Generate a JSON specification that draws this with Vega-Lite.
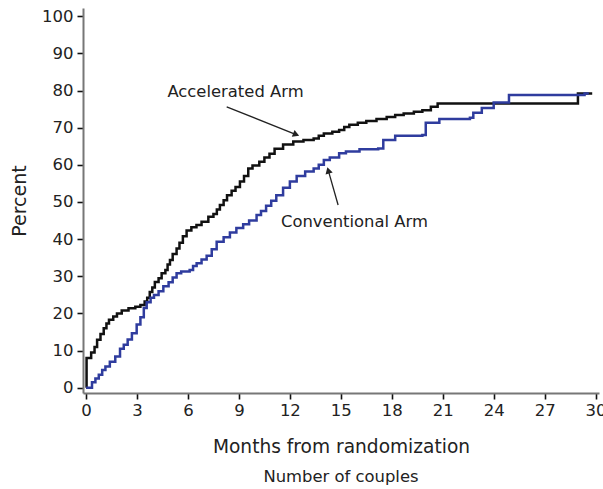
{
  "$schema": "https://vega.github.io/schema/vega-lite/v6.json",
  "width": 516,
  "height": 385,
  "autosize": {"type": "none"},
  "padding": {"left": 83, "top": 8, "right": 4, "bottom": 96},
  "background": "white",
  "config": {
    "view": {"stroke": null},
    "font": "DejaVu Sans",
    "axis": {"grid": false, "labelOverlap": false, "labelFont": "DejaVu Sans", "titleFont": "DejaVu Sans"},
    "axisY": {"tickCount": 11}
  },
  "title": {
    "text": "Number of couples",
    "orient": "bottom",
    "fontSize": 16.4,
    "fontWeight": "normal",
    "color": "#222",
    "offset": 13,
    "font": "DejaVu Sans"
  },
  "datasets": {
    "curves": [
      {"arm": "Accelerated", "month": 0, "pct": 0},
      {"arm": "Accelerated", "month": 0.03, "pct": 8},
      {"arm": "Accelerated", "month": 0.3, "pct": 9.5},
      {"arm": "Accelerated", "month": 0.5, "pct": 11},
      {"arm": "Accelerated", "month": 0.65, "pct": 12.9},
      {"arm": "Accelerated", "month": 0.85, "pct": 14.5},
      {"arm": "Accelerated", "month": 1.04, "pct": 16},
      {"arm": "Accelerated", "month": 1.2, "pct": 17.3},
      {"arm": "Accelerated", "month": 1.35, "pct": 18.3},
      {"arm": "Accelerated", "month": 1.6, "pct": 19.2},
      {"arm": "Accelerated", "month": 1.82, "pct": 20},
      {"arm": "Accelerated", "month": 2.1, "pct": 20.8},
      {"arm": "Accelerated", "month": 2.5, "pct": 21.4},
      {"arm": "Accelerated", "month": 2.9, "pct": 21.8},
      {"arm": "Accelerated", "month": 3.2, "pct": 22.3},
      {"arm": "Accelerated", "month": 3.45, "pct": 23.2},
      {"arm": "Accelerated", "month": 3.6, "pct": 24.2},
      {"arm": "Accelerated", "month": 3.75, "pct": 25.8},
      {"arm": "Accelerated", "month": 3.9, "pct": 27},
      {"arm": "Accelerated", "month": 4.05, "pct": 28.5},
      {"arm": "Accelerated", "month": 4.27, "pct": 29.5},
      {"arm": "Accelerated", "month": 4.45, "pct": 30.8},
      {"arm": "Accelerated", "month": 4.67, "pct": 31.7},
      {"arm": "Accelerated", "month": 4.8, "pct": 33.2},
      {"arm": "Accelerated", "month": 4.94, "pct": 34.4},
      {"arm": "Accelerated", "month": 5.1, "pct": 36},
      {"arm": "Accelerated", "month": 5.33, "pct": 37.5},
      {"arm": "Accelerated", "month": 5.5, "pct": 39},
      {"arm": "Accelerated", "month": 5.7, "pct": 40.8},
      {"arm": "Accelerated", "month": 5.92, "pct": 42.3},
      {"arm": "Accelerated", "month": 6.2, "pct": 43.2},
      {"arm": "Accelerated", "month": 6.5, "pct": 43.8},
      {"arm": "Accelerated", "month": 6.8, "pct": 44.7},
      {"arm": "Accelerated", "month": 7.2, "pct": 46},
      {"arm": "Accelerated", "month": 7.5, "pct": 46.8},
      {"arm": "Accelerated", "month": 7.7, "pct": 48},
      {"arm": "Accelerated", "month": 7.88, "pct": 49.2},
      {"arm": "Accelerated", "month": 8.1, "pct": 50.5},
      {"arm": "Accelerated", "month": 8.3, "pct": 51.8},
      {"arm": "Accelerated", "month": 8.57, "pct": 53},
      {"arm": "Accelerated", "month": 8.8, "pct": 54},
      {"arm": "Accelerated", "month": 9.06, "pct": 55.5},
      {"arm": "Accelerated", "month": 9.3, "pct": 57},
      {"arm": "Accelerated", "month": 9.55, "pct": 59},
      {"arm": "Accelerated", "month": 9.8, "pct": 59.8},
      {"arm": "Accelerated", "month": 10.2, "pct": 60.8},
      {"arm": "Accelerated", "month": 10.5, "pct": 62},
      {"arm": "Accelerated", "month": 10.8, "pct": 63},
      {"arm": "Accelerated", "month": 11.1, "pct": 64.3},
      {"arm": "Accelerated", "month": 11.6, "pct": 65.5},
      {"arm": "Accelerated", "month": 12.2, "pct": 66.3},
      {"arm": "Accelerated", "month": 12.8, "pct": 66.7},
      {"arm": "Accelerated", "month": 13.4, "pct": 67.1},
      {"arm": "Accelerated", "month": 13.7, "pct": 67.8},
      {"arm": "Accelerated", "month": 14, "pct": 68.4},
      {"arm": "Accelerated", "month": 14.5, "pct": 68.9},
      {"arm": "Accelerated", "month": 14.9, "pct": 69.4},
      {"arm": "Accelerated", "month": 15.2, "pct": 70.2},
      {"arm": "Accelerated", "month": 15.5, "pct": 70.8},
      {"arm": "Accelerated", "month": 16, "pct": 71.3},
      {"arm": "Accelerated", "month": 16.5, "pct": 71.8},
      {"arm": "Accelerated", "month": 17.1, "pct": 72.3},
      {"arm": "Accelerated", "month": 17.7, "pct": 72.9},
      {"arm": "Accelerated", "month": 18.2, "pct": 73.4},
      {"arm": "Accelerated", "month": 18.7, "pct": 73.8},
      {"arm": "Accelerated", "month": 19.3, "pct": 74.3},
      {"arm": "Accelerated", "month": 19.8, "pct": 74.7},
      {"arm": "Accelerated", "month": 20.3, "pct": 75.6},
      {"arm": "Accelerated", "month": 20.7, "pct": 76.5},
      {"arm": "Accelerated", "month": 28.96, "pct": 79.2},
      {"arm": "Accelerated", "month": 29.8, "pct": 79.2},
      {"arm": "Conventional", "month": 0, "pct": 0},
      {"arm": "Conventional", "month": 0.35, "pct": 1.5},
      {"arm": "Conventional", "month": 0.55, "pct": 2.5},
      {"arm": "Conventional", "month": 0.75, "pct": 3.5},
      {"arm": "Conventional", "month": 0.95, "pct": 4.8},
      {"arm": "Conventional", "month": 1.14, "pct": 5.7},
      {"arm": "Conventional", "month": 1.4, "pct": 7},
      {"arm": "Conventional", "month": 1.72, "pct": 8.4},
      {"arm": "Conventional", "month": 2.0, "pct": 10.5},
      {"arm": "Conventional", "month": 2.22, "pct": 11.6},
      {"arm": "Conventional", "month": 2.45, "pct": 13},
      {"arm": "Conventional", "month": 2.7, "pct": 14.7},
      {"arm": "Conventional", "month": 2.98, "pct": 17},
      {"arm": "Conventional", "month": 3.2, "pct": 19},
      {"arm": "Conventional", "month": 3.4, "pct": 21.5},
      {"arm": "Conventional", "month": 3.57, "pct": 23},
      {"arm": "Conventional", "month": 3.8, "pct": 24.2},
      {"arm": "Conventional", "month": 4.0, "pct": 25},
      {"arm": "Conventional", "month": 4.27, "pct": 26},
      {"arm": "Conventional", "month": 4.55, "pct": 27.3},
      {"arm": "Conventional", "month": 4.86, "pct": 28.4},
      {"arm": "Conventional", "month": 5.1, "pct": 29.7},
      {"arm": "Conventional", "month": 5.33, "pct": 30.8},
      {"arm": "Conventional", "month": 5.6, "pct": 31.3},
      {"arm": "Conventional", "month": 6.1, "pct": 31.7},
      {"arm": "Conventional", "month": 6.3, "pct": 32.8},
      {"arm": "Conventional", "month": 6.51, "pct": 33.5},
      {"arm": "Conventional", "month": 6.8, "pct": 34.5},
      {"arm": "Conventional", "month": 7.1, "pct": 35.5},
      {"arm": "Conventional", "month": 7.4, "pct": 37.3},
      {"arm": "Conventional", "month": 7.69, "pct": 39.3},
      {"arm": "Conventional", "month": 8.1, "pct": 40.5},
      {"arm": "Conventional", "month": 8.47, "pct": 41.8},
      {"arm": "Conventional", "month": 8.85, "pct": 43},
      {"arm": "Conventional", "month": 9.25, "pct": 44},
      {"arm": "Conventional", "month": 9.6, "pct": 45},
      {"arm": "Conventional", "month": 10.04, "pct": 46.5},
      {"arm": "Conventional", "month": 10.3, "pct": 47.6},
      {"arm": "Conventional", "month": 10.6, "pct": 49},
      {"arm": "Conventional", "month": 10.9, "pct": 50.3},
      {"arm": "Conventional", "month": 11.2, "pct": 51.8},
      {"arm": "Conventional", "month": 11.6, "pct": 53.8},
      {"arm": "Conventional", "month": 12, "pct": 55.5},
      {"arm": "Conventional", "month": 12.4, "pct": 57},
      {"arm": "Conventional", "month": 12.9, "pct": 58.2},
      {"arm": "Conventional", "month": 13.4, "pct": 59},
      {"arm": "Conventional", "month": 13.7, "pct": 60},
      {"arm": "Conventional", "month": 14, "pct": 61.3},
      {"arm": "Conventional", "month": 14.35, "pct": 62},
      {"arm": "Conventional", "month": 14.9, "pct": 63.1},
      {"arm": "Conventional", "month": 15.3, "pct": 63.6},
      {"arm": "Conventional", "month": 16.1, "pct": 64.2},
      {"arm": "Conventional", "month": 17.2, "pct": 64.4},
      {"arm": "Conventional", "month": 17.5, "pct": 66.7},
      {"arm": "Conventional", "month": 18.2, "pct": 67.8},
      {"arm": "Conventional", "month": 19.8, "pct": 68},
      {"arm": "Conventional", "month": 20.0, "pct": 71.3},
      {"arm": "Conventional", "month": 20.8, "pct": 72.3},
      {"arm": "Conventional", "month": 22.6, "pct": 72.7},
      {"arm": "Conventional", "month": 22.8, "pct": 74},
      {"arm": "Conventional", "month": 23.3, "pct": 75.3},
      {"arm": "Conventional", "month": 24, "pct": 76.8},
      {"arm": "Conventional", "month": 24.9, "pct": 78.8},
      {"arm": "Conventional", "month": 29.35, "pct": 79.2},
      {"arm": "Conventional", "month": 29.6, "pct": 79.2}
    ],
    "arrows": [
      {"label": "Accelerated Arm", "m1": 8.28, "p1": 75.6, "m2": 12.37, "p2": 68.14, "tm": 8.8, "tp": 79.7},
      {"label": "Conventional Arm", "m1": 14.84, "p1": 49.2, "m2": 14.26, "p2": 58.5, "tm": 15.8, "tp": 44.6}
    ]
  },
  "layer": [
    {
      "data": {"name": "curves"},
      "mark": {"type": "line", "interpolate": "step-after", "strokeWidth": 2.5},
      "encoding": {
        "x": {
          "field": "month", "type": "quantitative",
          "scale": {"domain": [-0.18, 30.2], "nice": false, "zero": false},
          "axis": {
            "values": [0, 3, 6, 9, 12, 15, 18, 21, 24, 27, 30],
            "labelOverlap": false,
            "title": "Months from randomization",
            "titleFontSize": 18.6, "titleFontWeight": "normal", "titleColor": "#222",
            "titlePadding": 19,
            "labelFontSize": 16.5, "labelColor": "#222", "labelPadding": 3,
            "domainColor": "#777", "domainWidth": 2,
            "tickColor": "#111", "tickWidth": 1.6, "tickSize": 6
          }
        },
        "y": {
          "field": "pct", "type": "quantitative",
          "scale": {"domain": [-1.4, 102.2], "nice": false, "zero": false},
          "axis": {
            "values": [0, 10, 20, 30, 40, 50, 60, 70, 80, 90, 100],
            "labelOverlap": false,
            "tickCount": 11,
            "title": "Percent",
            "titleFontSize": 19, "titleFontWeight": "normal", "titleColor": "#222",
            "titlePadding": 12,
            "labelFontSize": 16.5, "labelColor": "#222", "labelPadding": 4,
            "domainColor": "#777", "domainWidth": 2,
            "tickColor": "#111", "tickWidth": 1.6, "tickSize": 6
          }
        },
        "color": {
          "field": "arm", "type": "nominal",
          "scale": {"domain": ["Accelerated", "Conventional"], "range": ["#111111", "#2f3c9e"]},
          "legend": null
        }
      }
    },
    {
      "data": {"name": "arrows"},
      "mark": {"type": "rule", "color": "#222", "strokeWidth": 1.3},
      "encoding": {
        "x": {"field": "m1", "type": "quantitative"},
        "y": {"field": "p1", "type": "quantitative"},
        "x2": {"field": "m2"},
        "y2": {"field": "p2"}
      }
    },
    {
      "data": {"name": "arrows"},
      "transform": [{"filter": "datum.label === 'Accelerated Arm'"}],
      "mark": {"type": "point", "shape": "triangle-up", "filled": true, "color": "#222", "size": 55, "angle": 111.8, "opacity": 1},
      "encoding": {
        "x": {"field": "m2", "type": "quantitative"},
        "y": {"field": "p2", "type": "quantitative"}
      }
    },
    {
      "data": {"name": "arrows"},
      "transform": [{"filter": "datum.label === 'Conventional Arm'"}],
      "mark": {"type": "point", "shape": "triangle-up", "filled": true, "color": "#222", "size": 55, "angle": 343.8, "opacity": 1},
      "encoding": {
        "x": {"field": "m2", "type": "quantitative"},
        "y": {"field": "p2", "type": "quantitative"}
      }
    },
    {
      "data": {"name": "arrows"},
      "mark": {"type": "text", "fontSize": 16.4, "color": "#222", "align": "center", "baseline": "middle", "font": "DejaVu Sans"},
      "encoding": {
        "x": {"field": "tm", "type": "quantitative"},
        "y": {"field": "tp", "type": "quantitative"},
        "text": {"field": "label"}
      }
    }
  ]
}
